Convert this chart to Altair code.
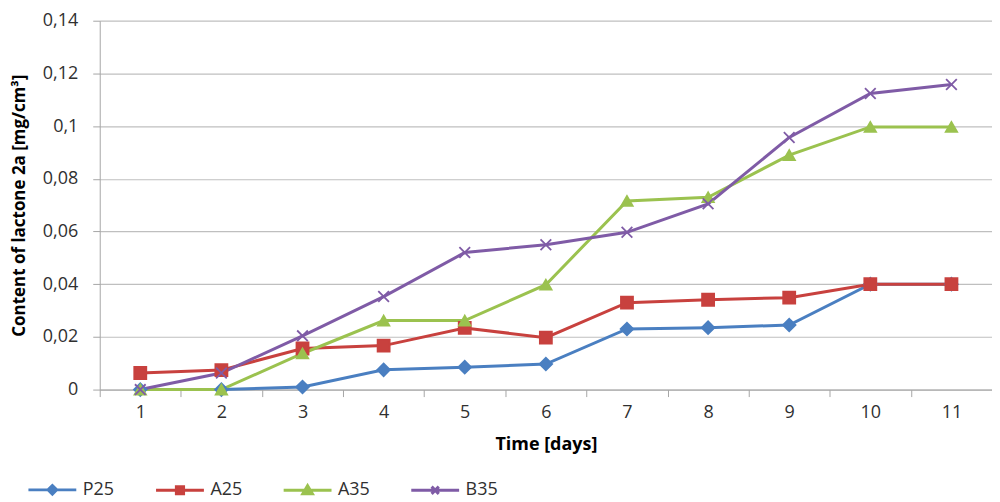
import altair as alt
import pandas as pd

days = [1, 2, 3, 4, 5, 6, 7, 8, 9, 10, 11]
series_names = ["P25", "A25", "A35", "B35"]
p25 = [0.0, 0.0, 0.001, 0.0075, 0.0085, 0.0097, 0.023, 0.0235, 0.0245, 0.040, 0.040]
a25 = [0.0063, 0.0074, 0.0156, 0.0167, 0.0234, 0.0197, 0.033, 0.0341, 0.0349, 0.040, 0.040]
a35 = [0.0, 0.0, 0.0137, 0.0262, 0.0262, 0.0398, 0.0716, 0.0730, 0.089, 0.0997, 0.0997]
b35 = [0.0, 0.0063, 0.0204, 0.0353, 0.052, 0.055, 0.0597, 0.0705, 0.0957, 0.1124, 0.1158]
colors = ["#4A7FC1", "#C8413E", "#9BC24F", "#7F5BA6"]
shapes = ["diamond", "square", "triangle-up", "M-1,-1L1,1M-1,1L1,-1"]
legend_shapes = [
    "M-1,0L1,0M0,-0.18L0.18,0L0,0.18L-0.18,0Z",
    "M-1,0L1,0M-0.15,-0.15L0.15,-0.15L0.15,0.15L-0.15,0.15Z",
    "M-1,0L1,0M0,-0.19L0.2,0.15L-0.2,0.15Z",
    "M-1,0L1,0M-0.15,-0.15L0.15,0.15M-0.15,0.15L0.15,-0.15",
]

rows = []
for name, vals in zip(series_names, [p25, a25, a35, b35]):
    for d, v in zip(days, vals):
        rows.append({"day": d, "value": v, "series": name})
df = pd.DataFrame(rows)

FONT = "Open Sans"


def cscale():
    return alt.Scale(domain=series_names, range=colors)


x_enc = alt.X(
    "day:O",
    scale=alt.Scale(type="band", paddingInner=0, paddingOuter=0),
    axis=alt.Axis(
        title="Time [days]",
        labelAngle=0,
        tickBand="extent",
        grid=False,
        domainColor="#a6a6a6",
        tickColor="#a6a6a6",
        tickSize=7,
        labelPadding=7,
        labelFontSize=18,
        labelColor="#303030",
        labelFont=FONT,
        titleFont=FONT,
        titleFontSize=18,
        titleFontWeight="bold",
        titleColor="#000000",
        titlePadding=14,
    ),
)
y_enc = alt.Y(
    "value:Q",
    scale=alt.Scale(domain=[0, 0.14], nice=False),
    axis=alt.Axis(
        title="Content of lactone 2a [mg/cm³]",
        values=[0, 0.02, 0.04, 0.06, 0.08, 0.1, 0.12, 0.14],
        labelExpr="replace(format(datum.value, '.2~f'), '.', ',')",
        gridColor="#bfbfbf",
        gridWidth=1.2,
        domainColor="#a6a6a6",
        tickColor="#a6a6a6",
        tickSize=7,
        labelPadding=15,
        labelFontSize=18,
        labelColor="#303030",
        labelFont=FONT,
        titleFont=FONT,
        titleFontSize=17,
        titleFontWeight="bold",
        titleColor="#000000",
        titlePadding=14,
    ),
)

lines = alt.Chart(df).mark_line(strokeWidth=3).encode(
    x=x_enc,
    y=y_enc,
    color=alt.Color("series:N", scale=cscale(), legend=None),
    detail="series:N",
)

points = alt.Chart(df).mark_point(filled=True, strokeWidth=1.8, opacity=1).encode(
    x=x_enc,
    y=y_enc,
    color=alt.Color("series:N", scale=cscale(), legend=None),
    stroke=alt.Stroke("series:N", scale=cscale(), legend=None),
    shape=alt.Shape(
        "series:N",
        scale=alt.Scale(domain=series_names, range=shapes),
        legend=None,
    ),
    size=alt.Size(
        "series:N",
        scale=alt.Scale(domain=series_names, range=[160, 115, 220, 200]),
        legend=None,
    ),
)

legend_spec = alt.Legend(
    orient="none",
    legendX=-73,
    legendY=445,
    direction="horizontal",
    title=None,
    symbolSize=2304,
    symbolStrokeWidth=3,
    symbolOpacity=1,
    labelFontSize=18,
    labelFont=FONT,
    labelColor="#303030",
    labelOffset=5,
    columnPadding=35,
    padding=0,
)

legend_layer = (
    alt.Chart(df)
    .transform_filter("datum.value < 0")
    .mark_point(filled=True, opacity=1)
    .encode(
        x=x_enc,
        y=y_enc,
        color=alt.Color("series:N", scale=cscale(), legend=legend_spec),
        stroke=alt.Stroke("series:N", scale=cscale(), legend=legend_spec),
        shape=alt.Shape(
            "series:N",
            scale=alt.Scale(domain=series_names, range=legend_shapes),
            legend=legend_spec,
        ),
    )
)

chart = (
    alt.layer(lines, points, legend_layer)
    .resolve_scale(color="independent", stroke="independent", shape="independent", size="independent")
    .properties(
        width=895,
        height=370,
        autosize=alt.AutoSizeParams(type="none"),
        padding={"left": 92, "top": 12, "right": 0, "bottom": 112},
        background="white",
    )
    .configure_view(stroke=None)
)

chart.save("out.html", embed_options={"renderer": "svg", "actions": False})
